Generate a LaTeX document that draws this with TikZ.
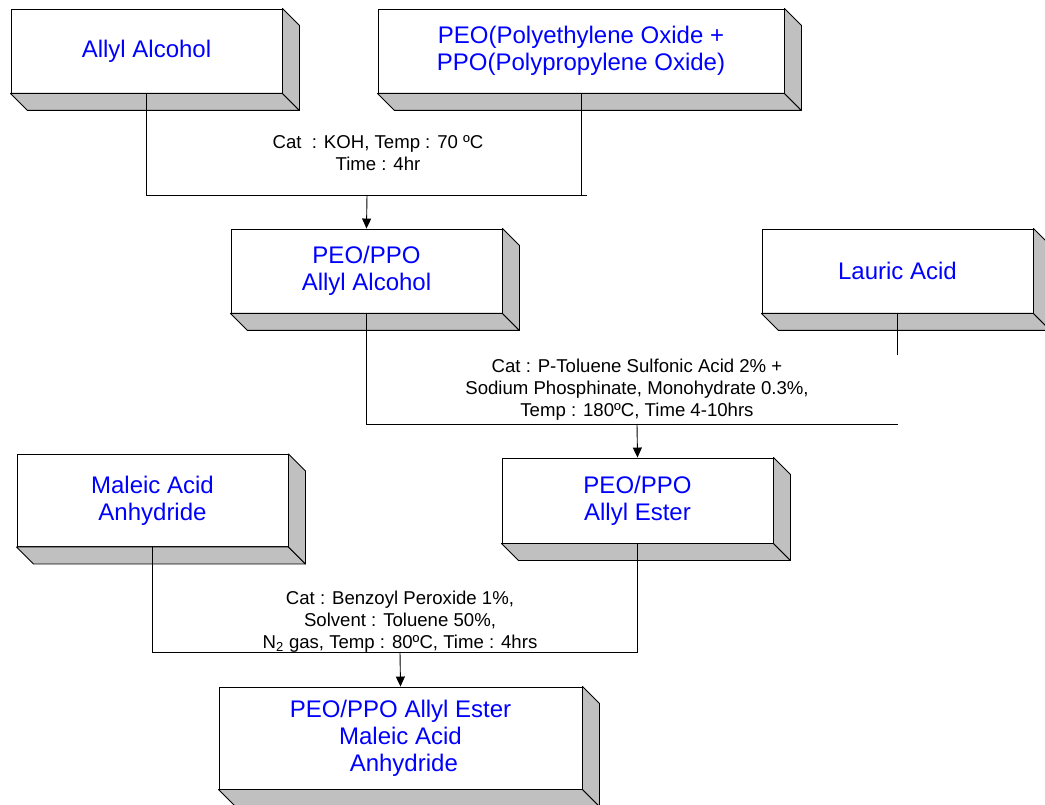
\documentclass[tikz,border=0pt]{standalone}
\usepackage{fontspec}
\setmainfont{Liberation Sans}
\usepackage{xcolor}
\definecolor{flowBlue}{RGB}{0,0,255}
\definecolor{flowSide}{RGB}{192,192,192}
\usepackage{tikz}
\usetikzlibrary{
    arrows.meta,
    calc
}

\begin{document}
\begin{tikzpicture}[
    x=1pt, y=-1pt,
    blockBox/.style={
        rectangle, draw=black, line width=0.9pt,
        fill=white, text=flowBlue,
        font=\fontsize{24}{27}\selectfont, align=center,
        inner sep=0pt, minimum width=271pt, minimum height=84pt
    },
    sideFace/.style={
        fill=flowSide, draw=black, line width=0.9pt, line join=round
    },
    flowLine/.style={
        draw=black, line width=0.9pt
    },
    flowArrow/.style={
        -{Triangle[length=10pt, width=9pt]}, line width=0.9pt, draw=black
    },
    condLabel/.style={
        font=\fontsize{18.6}{22}\selectfont, text=black, align=center, inner sep=0pt
    }
]

    \clip (0,0) rectangle (1045,805);

    % Starting materials and products
    \node[blockBox] (alcohol) at (146.5, 51) {Allyl Alcohol};
    \node[blockBox, minimum width=406pt] (peoppo) at (581, 51) {
        PEO(Polyethylene Oxide +\\
        PPO(Polypropylene Oxide)
    };
    \node[blockBox] (peoAlcohol) at (366.5, 271) {PEO/PPO\\Allyl Alcohol};
    \node[blockBox] (lauric) at (897.5, 271) {Lauric Acid};
    \node[blockBox, minimum height=85pt] (allylEster) at (637.5, 500.5) {PEO/PPO\\Allyl Ester};
    \node[blockBox, minimum height=92pt] (maleic) at (152.5, 500.5) {Maleic Acid\\Anhydride};
    \node[blockBox, minimum width=363pt, minimum height=102pt] (product) at (400.5, 738) {
        PEO/PPO Allyl Ester\\
        Maleic Acid\\
        \ Anhydride
    };

    % 3D sides of the boxes
    \foreach \b in {alcohol, peoppo, peoAlcohol, lauric, allylEster, maleic, product} {
        \filldraw[sideFace] (\b.south west) -- (\b.south east) -- ($(\b.south east)+(17,17)$)
            -- ($(\b.south west)+(17,17)$) -- cycle;
        \filldraw[sideFace] (\b.north east) -- ($(\b.north east)+(17,17)$)
            -- ($(\b.south east)+(17,17)$) -- (\b.south east) -- cycle;
    }

    % Reaction conditions
    \node[condLabel] (condKoh) at (378, 153) {
        Cat~ : KOH, Temp : 70 ºC\\
        Time : 4hr
    };
    \node[condLabel] (condPtsa) at (637, 390) {
        Cat : P-Toluene Sulfonic Acid 2\% +\\
        Sodium Phosphinate, Monohydrate 0.3\%,\\
        Temp : 180ºC, Time 4-10hrs
    };
    \node[condLabel] (condBpo) at (400, 622) {
        Cat : Benzoyl Peroxide 1\%,\\
        Solvent : Toluene 50\%,\\
        N\textsubscript{2} gas, Temp : 80ºC, Time : 4hrs
    };

    % Junctions
    \coordinate (joinA) at (367, 195);
    \coordinate (joinB) at (637, 424);
    \coordinate (joinC) at (400, 652);

    % Connectors
    \draw[flowLine] (alcohol.south) |- ($(peoppo.south |- joinA)+(6,0)$);
    \draw[flowLine] (peoppo.south) -- (peoppo.south |- joinA);
    \draw[flowArrow] (joinA) -- (peoAlcohol.north);

    \draw[flowLine] (peoAlcohol.south) |- (lauric.south |- joinB);
    \draw[flowLine] (lauric.south) -- ++(0,42);
    \draw[flowArrow] (joinB) -- (allylEster.north);

    \draw[flowLine] (maleic.south) |- (allylEster.south |- joinC);
    \draw[flowLine] (allylEster.south) -- (allylEster.south |- joinC);
    \draw[flowArrow] (joinC) -- (product.north);

\end{tikzpicture}
\end{document}
